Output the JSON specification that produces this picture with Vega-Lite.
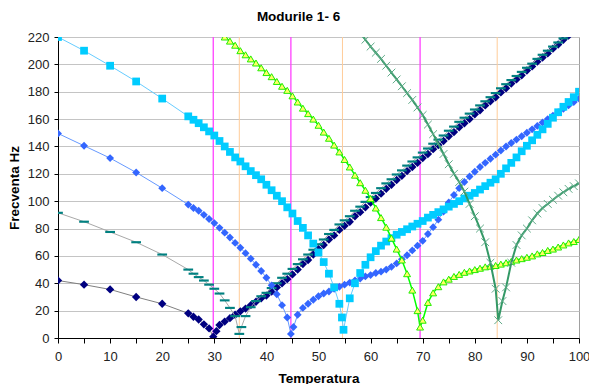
{
  "$schema": "https://vega.github.io/schema/vega-lite/v6.json",
  "width": 521,
  "height": 301,
  "autosize": {"type": "none"},
  "padding": {"left": 58, "top": 37, "right": 10, "bottom": 46},
  "background": "white",
  "title": {"text": "Modurile 1- 6", "fontSize": 13.5, "fontWeight": "bold", "font": "Liberation Sans", "color": "#000", "anchor": "middle", "frame": "group", "dx": -20, "offset": 8},
  "config": {
    "font": "Liberation Sans",
    "view": {"stroke": "#a0a0a0", "strokeWidth": 1},
    "axis": {"labelFont": "Liberation Sans", "titleFont": "Liberation Sans", "labelFontSize": 13, "titleFontSize": 13.5, "titleFontWeight": "bold", "labelColor": "#222", "titleColor": "#000", "domainColor": "#000", "tickColor": "#000", "tickSize": 5}
  },
  "datasets": {
    "vlines": [
      {"x": 29.8, "g": "M"}, {"x": 44.7, "g": "M"}, {"x": 69.5, "g": "M"},
      {"x": 34.8, "g": "O"}, {"x": 54.6, "g": "O"}, {"x": 84.3, "g": "O"}
    ],
    "modes": [
      {"s":"A","x":0,"y":42},{"s":"A","x":5,"y":39},{"s":"A","x":10,"y":35.5},{"s":"A","x":15,"y":30},{"s":"A","x":20,"y":25},{"s":"A","x":25,"y":18},{"s":"A","x":26,"y":15.5},{"s":"A","x":27,"y":13.5},{"s":"A","x":28,"y":10},{"s":"A","x":29,"y":7},{"s":"A","x":29.8,"y":1},{"s":"A","x":30.4,"y":5},
      {"s":"A","x":31,"y":9.5},{"s":"A","x":32,"y":12},{"s":"A","x":33,"y":14.5},{"s":"A","x":34,"y":17},{"s":"A","x":35,"y":19.5},{"s":"A","x":36,"y":21.5},{"s":"A","x":37,"y":24},{"s":"A","x":38,"y":26.5},{"s":"A","x":39,"y":29},{"s":"A","x":40,"y":31},{"s":"A","x":41,"y":34},{"s":"A","x":42,"y":37},{"s":"A","x":43,"y":40},{"s":"A","x":44,"y":43},{"s":"A","x":45,"y":46.5},{"s":"A","x":46,"y":50},{"s":"A","x":47,"y":54},{"s":"A","x":48,"y":57},{"s":"A","x":49,"y":61},{"s":"A","x":50,"y":65},{"s":"A","x":51,"y":68},{"s":"A","x":52,"y":72},{"s":"A","x":53,"y":75},{"s":"A","x":54,"y":79},{"s":"A","x":55,"y":82},{"s":"A","x":56,"y":85},{"s":"A","x":57,"y":89},{"s":"A","x":58,"y":92},{"s":"A","x":59,"y":95.5},{"s":"A","x":60,"y":99},{"s":"A","x":61,"y":102},{"s":"A","x":62,"y":105.5},{"s":"A","x":63,"y":109},{"s":"A","x":64,"y":112},{"s":"A","x":65,"y":115.5},{"s":"A","x":66,"y":118.5},{"s":"A","x":67,"y":122},{"s":"A","x":68,"y":125},{"s":"A","x":69,"y":128},{"s":"A","x":70,"y":131.5},{"s":"A","x":71,"y":134.5},{"s":"A","x":72,"y":138},{"s":"A","x":73,"y":141},{"s":"A","x":74,"y":144},{"s":"A","x":75,"y":147.5},{"s":"A","x":76,"y":150.5},{"s":"A","x":77,"y":154},{"s":"A","x":78,"y":157},{"s":"A","x":79,"y":160},{"s":"A","x":80,"y":163.5},{"s":"A","x":81,"y":166.5},{"s":"A","x":82,"y":170},{"s":"A","x":83,"y":173},{"s":"A","x":84,"y":176},{"s":"A","x":85,"y":179.5},{"s":"A","x":86,"y":182.5},{"s":"A","x":87,"y":186},{"s":"A","x":88,"y":189},{"s":"A","x":89,"y":192},{"s":"A","x":90,"y":195.5},{"s":"A","x":91,"y":198.5},{"s":"A","x":92,"y":202},{"s":"A","x":93,"y":205},{"s":"A","x":94,"y":208},{"s":"A","x":95,"y":211.5},{"s":"A","x":96,"y":214.5},{"s":"A","x":97,"y":218},{"s":"A","x":98,"y":221},

      {"s":"B","x":0,"y":91.5},{"s":"B","x":5,"y":85},{"s":"B","x":10,"y":77.5},{"s":"B","x":15,"y":70},{"s":"B","x":20,"y":61},{"s":"B","x":25,"y":50},{"s":"B","x":26,"y":47},{"s":"B","x":27,"y":44.5},{"s":"B","x":28,"y":42},{"s":"B","x":29,"y":39},{"s":"B","x":30,"y":36},{"s":"B","x":31,"y":32.5},{"s":"B","x":32,"y":27.5},{"s":"B","x":33,"y":22},{"s":"B","x":34,"y":16},{"s":"B","x":34.8,"y":3},{"s":"B","x":35.2,"y":8},{"s":"B","x":36,"y":16},{"s":"B","x":37,"y":22.5},{"s":"B","x":38,"y":27},{"s":"B","x":39,"y":30.5},{"s":"B","x":40,"y":33},{"s":"B","x":41,"y":36.5},{"s":"B","x":42,"y":40},{"s":"B","x":43,"y":44},{"s":"B","x":44,"y":47},{"s":"B","x":45,"y":50.5},{"s":"B","x":46,"y":54},{"s":"B","x":47,"y":57.5},{"s":"B","x":48,"y":61},{"s":"B","x":49,"y":64.5},{"s":"B","x":50,"y":68.5},{"s":"B","x":51,"y":72},{"s":"B","x":52,"y":76},{"s":"B","x":53,"y":79},{"s":"B","x":54,"y":83},{"s":"B","x":55,"y":86},{"s":"B","x":56,"y":89},{"s":"B","x":57,"y":93},{"s":"B","x":58,"y":96},{"s":"B","x":59,"y":99.5},{"s":"B","x":60,"y":103},{"s":"B","x":61,"y":106},{"s":"B","x":62,"y":109.5},{"s":"B","x":63,"y":113},{"s":"B","x":64,"y":116},{"s":"B","x":65,"y":119.5},{"s":"B","x":66,"y":122.5},{"s":"B","x":67,"y":126},{"s":"B","x":68,"y":129},{"s":"B","x":69,"y":132},{"s":"B","x":70,"y":135.5},{"s":"B","x":71,"y":138.5},{"s":"B","x":72,"y":142},{"s":"B","x":73,"y":145},{"s":"B","x":74,"y":148},{"s":"B","x":75,"y":151.5},{"s":"B","x":76,"y":154.5},{"s":"B","x":77,"y":158},{"s":"B","x":78,"y":161},{"s":"B","x":79,"y":164},{"s":"B","x":80,"y":167},{"s":"B","x":81,"y":170},{"s":"B","x":82,"y":173},{"s":"B","x":83,"y":176},{"s":"B","x":84,"y":179},{"s":"B","x":85,"y":182.5},{"s":"B","x":86,"y":185.5},{"s":"B","x":87,"y":188.5},{"s":"B","x":88,"y":191.5},{"s":"B","x":89,"y":194.5},{"s":"B","x":90,"y":197.5},{"s":"B","x":91,"y":200.5},{"s":"B","x":92,"y":204},{"s":"B","x":93,"y":207},{"s":"B","x":94,"y":210},{"s":"B","x":95,"y":213},{"s":"B","x":96,"y":216},{"s":"B","x":97,"y":219},{"s":"B","x":98,"y":222},

      {"s":"C","x":0,"y":149.5},{"s":"C","x":5,"y":140.5},{"s":"C","x":10,"y":131.5},{"s":"C","x":15,"y":121},{"s":"C","x":20,"y":109.5},{"s":"C","x":25,"y":97.5},{"s":"C","x":26,"y":95},{"s":"C","x":27,"y":93},{"s":"C","x":28,"y":90},{"s":"C","x":29,"y":87},{"s":"C","x":30,"y":84},{"s":"C","x":31,"y":80.5},{"s":"C","x":32,"y":77},{"s":"C","x":33,"y":73.5},{"s":"C","x":34,"y":69.5},{"s":"C","x":35,"y":66},{"s":"C","x":36,"y":62},{"s":"C","x":37,"y":58},{"s":"C","x":38,"y":53.5},{"s":"C","x":39,"y":49},{"s":"C","x":40,"y":44},{"s":"C","x":41,"y":38.5},{"s":"C","x":42,"y":32},{"s":"C","x":43,"y":24},{"s":"C","x":44,"y":15},{"s":"C","x":44.7,"y":3},{"s":"C","x":45.2,"y":8},{"s":"C","x":46,"y":17},{"s":"C","x":47,"y":22},{"s":"C","x":48,"y":25},{"s":"C","x":49,"y":28},{"s":"C","x":50,"y":30.5},{"s":"C","x":51,"y":32.5},{"s":"C","x":52,"y":34},{"s":"C","x":53,"y":36},{"s":"C","x":54,"y":37.5},{"s":"C","x":55,"y":39},{"s":"C","x":56,"y":40.5},{"s":"C","x":57,"y":42},{"s":"C","x":58,"y":43.5},{"s":"C","x":59,"y":45},{"s":"C","x":60,"y":46},{"s":"C","x":61,"y":47.5},{"s":"C","x":62,"y":48.5},{"s":"C","x":63,"y":50},{"s":"C","x":64,"y":52},{"s":"C","x":65,"y":54.5},{"s":"C","x":66,"y":57.5},{"s":"C","x":67,"y":60.5},{"s":"C","x":68,"y":64},{"s":"C","x":69,"y":67.5},{"s":"C","x":70,"y":71},{"s":"C","x":71,"y":76},{"s":"C","x":72,"y":81},{"s":"C","x":73,"y":86.5},{"s":"C","x":74,"y":92.5},{"s":"C","x":75,"y":99},{"s":"C","x":76,"y":104.5},{"s":"C","x":77,"y":109.5},{"s":"C","x":78,"y":114},{"s":"C","x":79,"y":118},{"s":"C","x":80,"y":121.5},{"s":"C","x":81,"y":125},{"s":"C","x":82,"y":128},{"s":"C","x":83,"y":131},{"s":"C","x":84,"y":134},{"s":"C","x":85,"y":137},{"s":"C","x":86,"y":140},{"s":"C","x":87,"y":142.5},{"s":"C","x":88,"y":145},{"s":"C","x":89,"y":147.5},{"s":"C","x":90,"y":150},{"s":"C","x":91,"y":152.5},{"s":"C","x":92,"y":155},{"s":"C","x":93,"y":157.5},{"s":"C","x":94,"y":160},{"s":"C","x":95,"y":162.5},{"s":"C","x":96,"y":165},{"s":"C","x":97,"y":167.5},{"s":"C","x":98,"y":170},{"s":"C","x":99,"y":172.5},{"s":"C","x":100,"y":175},

      {"s":"D","x":0,"y":220},{"s":"D","x":5,"y":210},{"s":"D","x":10,"y":199},{"s":"D","x":15,"y":187.5},{"s":"D","x":20,"y":175},{"s":"D","x":25,"y":162},{"s":"D","x":26,"y":159.5},{"s":"D","x":27,"y":157},{"s":"D","x":28,"y":154},{"s":"D","x":29,"y":151},{"s":"D","x":30,"y":148},{"s":"D","x":31,"y":144},{"s":"D","x":32,"y":140},{"s":"D","x":33,"y":136},{"s":"D","x":34,"y":132},{"s":"D","x":35,"y":129},{"s":"D","x":36,"y":125.5},{"s":"D","x":37,"y":122},{"s":"D","x":38,"y":119},{"s":"D","x":39,"y":116},{"s":"D","x":40,"y":112},{"s":"D","x":41,"y":108},{"s":"D","x":42,"y":104},{"s":"D","x":43,"y":100},{"s":"D","x":44,"y":95.5},{"s":"D","x":45,"y":91},{"s":"D","x":46,"y":85.5},{"s":"D","x":47,"y":80.5},{"s":"D","x":48,"y":75},{"s":"D","x":49,"y":69},{"s":"D","x":50,"y":62.5},{"s":"D","x":51,"y":55.5},{"s":"D","x":52,"y":47},{"s":"D","x":53,"y":37},{"s":"D","x":54,"y":25},{"s":"D","x":54.5,"y":15},{"s":"D","x":54.8,"y":6},{"s":"D","x":56,"y":29},{"s":"D","x":57,"y":40},{"s":"D","x":58,"y":47.5},{"s":"D","x":59,"y":53.5},{"s":"D","x":60,"y":59},{"s":"D","x":61,"y":63.5},{"s":"D","x":62,"y":67.5},{"s":"D","x":63,"y":70.5},{"s":"D","x":64,"y":73},{"s":"D","x":65,"y":75.5},{"s":"D","x":66,"y":77.5},{"s":"D","x":67,"y":79.5},{"s":"D","x":68,"y":81.5},{"s":"D","x":69,"y":83.5},{"s":"D","x":70,"y":85.5},{"s":"D","x":71,"y":88},{"s":"D","x":72,"y":90},{"s":"D","x":73,"y":92},{"s":"D","x":74,"y":94},{"s":"D","x":75,"y":96},{"s":"D","x":76,"y":98},{"s":"D","x":77,"y":100},{"s":"D","x":78,"y":102},{"s":"D","x":79,"y":104},{"s":"D","x":80,"y":106},{"s":"D","x":81,"y":108.5},{"s":"D","x":82,"y":111},{"s":"D","x":83,"y":113.5},{"s":"D","x":84,"y":116},{"s":"D","x":85,"y":120},{"s":"D","x":86,"y":124},{"s":"D","x":87,"y":128},{"s":"D","x":88,"y":132},{"s":"D","x":89,"y":136.5},{"s":"D","x":90,"y":140.5},{"s":"D","x":91,"y":144.5},{"s":"D","x":92,"y":148.5},{"s":"D","x":93,"y":152.5},{"s":"D","x":94,"y":156.5},{"s":"D","x":95,"y":161},{"s":"D","x":96,"y":165},{"s":"D","x":97,"y":169},{"s":"D","x":98,"y":172.5},{"s":"D","x":99,"y":176},{"s":"D","x":100,"y":180},

      {"s":"E","x":30.5,"y":226},{"s":"E","x":31,"y":224},{"s":"E","x":32,"y":220},{"s":"E","x":33,"y":217},{"s":"E","x":34,"y":214},{"s":"E","x":35,"y":210},{"s":"E","x":36,"y":207},{"s":"E","x":37,"y":204},{"s":"E","x":38,"y":201},{"s":"E","x":39,"y":197.5},{"s":"E","x":40,"y":194},{"s":"E","x":41,"y":191},{"s":"E","x":42,"y":187.5},{"s":"E","x":43,"y":184},{"s":"E","x":44,"y":181},{"s":"E","x":45,"y":177},{"s":"E","x":46,"y":172.5},{"s":"E","x":47,"y":168},{"s":"E","x":48,"y":164},{"s":"E","x":49,"y":160},{"s":"E","x":50,"y":155.5},{"s":"E","x":51,"y":150.5},{"s":"E","x":52,"y":146},{"s":"E","x":53,"y":141},{"s":"E","x":54,"y":136},{"s":"E","x":55,"y":130.5},{"s":"E","x":56,"y":125},{"s":"E","x":57,"y":119},{"s":"E","x":58,"y":113.5},{"s":"E","x":59,"y":108},{"s":"E","x":60,"y":102},{"s":"E","x":61,"y":95},{"s":"E","x":62,"y":88},{"s":"E","x":63,"y":81},{"s":"E","x":64,"y":73},{"s":"E","x":65,"y":65},{"s":"E","x":66,"y":57},{"s":"E","x":67,"y":47},{"s":"E","x":68,"y":35},{"s":"E","x":69,"y":20},{"s":"E","x":69.5,"y":8},{"s":"E","x":70,"y":13},{"s":"E","x":71,"y":26},{"s":"E","x":72,"y":33},{"s":"E","x":73,"y":37.5},{"s":"E","x":74,"y":41},{"s":"E","x":75,"y":43},{"s":"E","x":76,"y":45},{"s":"E","x":77,"y":46.5},{"s":"E","x":78,"y":48},{"s":"E","x":79,"y":49},{"s":"E","x":80,"y":50},{"s":"E","x":81,"y":51},{"s":"E","x":82,"y":52},{"s":"E","x":83,"y":52.5},{"s":"E","x":84,"y":53},{"s":"E","x":85,"y":54},{"s":"E","x":86,"y":55},{"s":"E","x":87,"y":56},{"s":"E","x":88,"y":57},{"s":"E","x":89,"y":58},{"s":"E","x":90,"y":59},{"s":"E","x":91,"y":60},{"s":"E","x":92,"y":61.5},{"s":"E","x":93,"y":62.5},{"s":"E","x":94,"y":64},{"s":"E","x":95,"y":65},{"s":"E","x":96,"y":66.5},{"s":"E","x":97,"y":68},{"s":"E","x":98,"y":69.5},{"s":"E","x":99,"y":70.5},{"s":"E","x":100,"y":72},

      {"s":"F","x":57,"y":229},{"s":"F","x":58,"y":223},{"s":"F","x":59,"y":218},{"s":"F","x":60,"y":213},{"s":"F","x":61,"y":208.5},{"s":"F","x":62,"y":204},{"s":"F","x":63,"y":199},{"s":"F","x":64,"y":194},{"s":"F","x":65,"y":189},{"s":"F","x":66,"y":184},{"s":"F","x":67,"y":179},{"s":"F","x":68,"y":174},{"s":"F","x":69,"y":168.5},{"s":"F","x":70,"y":163},{"s":"F","x":71,"y":156},{"s":"F","x":72,"y":149},{"s":"F","x":73,"y":142},{"s":"F","x":74,"y":134.5},{"s":"F","x":75,"y":127},{"s":"F","x":76,"y":120},{"s":"F","x":77,"y":114},{"s":"F","x":78,"y":107},{"s":"F","x":79,"y":98},{"s":"F","x":80,"y":89},{"s":"F","x":81,"y":80},{"s":"F","x":82,"y":70},{"s":"F","x":83,"y":55},{"s":"F","x":84,"y":36},{"s":"F","x":84.5,"y":13},{"s":"F","x":85.3,"y":27},{"s":"F","x":86,"y":37},{"s":"F","x":87,"y":55},{"s":"F","x":88,"y":68},{"s":"F","x":89,"y":75},{"s":"F","x":90,"y":80},{"s":"F","x":91,"y":86},{"s":"F","x":92,"y":91},{"s":"F","x":93,"y":95},{"s":"F","x":94,"y":98},{"s":"F","x":95,"y":101},{"s":"F","x":96,"y":104},{"s":"F","x":97,"y":106.5},{"s":"F","x":98,"y":109},{"s":"F","x":99,"y":111},{"s":"F","x":100,"y":113}
    ]
  },
  "encoding": {
    "x": {"field": "x", "type": "quantitative", "scale": {"domain": [0, 100], "nice": false},
      "axis": {"title": "Temperatura", "values": [0,5,10,15,20,25,30,35,40,45,50,55,60,65,70,75,80,85,90,95,100], "labelExpr": "datum.value % 10 == 0 ? datum.label : ''", "grid": false, "labelPadding": 7, "titlePadding": 8, "labelFlush": false}}
  },
  "layer": [
    {
      "data": {"name": "vlines"},
      "transform": [{"filter": "datum.g == 'O'"}],
      "mark": {"type": "rule", "color": "#FFCC99", "strokeWidth": 1}
    },
    {
      "data": {"name": "vlines"},
      "transform": [{"filter": "datum.g == 'M'"}],
      "mark": {"type": "rule", "color": "#FF40FF", "strokeWidth": 1.3}
    },
    {
      "data": {"name": "modes"},
      "encoding": {
        "y": {"field": "y", "type": "quantitative", "scale": {"domain": [0, 220], "nice": false},
          "axis": {"title": "Frecventa Hz", "values": [0,20,40,60,80,100,120,140,160,180,200,220], "grid": true, "gridColor": "#c4c4c4", "gridWidth": 1, "labelPadding": 5, "titlePadding": 6, "tickSize": 4}}
      },
      "layer": [
        {"transform": [{"filter": "datum.s == 'A'"}], "mark": {"type": "line", "color": "#7f7f7f", "strokeWidth": 1, "clip": true}},
        {"transform": [{"filter": "datum.s == 'A'"}], "mark": {"type": "point", "shape": "diamond", "size": 70, "filled": true, "color": "#000080", "opacity": 1, "clip": true}},
        {"transform": [{"filter": "datum.s == 'B'"}], "mark": {"type": "line", "color": "#a8a8a8", "strokeWidth": 1, "clip": true}},
        {"transform": [{"filter": "datum.s == 'B'"}], "mark": {"type": "point", "shape": "M-1,-0.22H1V0.22H-1Z", "size": 95, "filled": true, "color": "#008080", "opacity": 1, "clip": true}},
        {"transform": [{"filter": "datum.s == 'C'"}], "mark": {"type": "line", "color": "#6699ff", "strokeWidth": 1, "clip": true}},
        {"transform": [{"filter": "datum.s == 'C'"}], "mark": {"type": "point", "shape": "diamond", "size": 62, "filled": true, "color": "#3366ff", "opacity": 1, "clip": true}},
        {"transform": [{"filter": "datum.s == 'D'"}], "mark": {"type": "line", "color": "#66ccff", "strokeWidth": 1, "clip": true}},
        {"transform": [{"filter": "datum.s == 'D'"}], "mark": {"type": "point", "shape": "square", "size": 60, "filled": true, "color": "#00ccff", "opacity": 1, "clip": true}},
        {"transform": [{"filter": "datum.s == 'E'"}], "mark": {"type": "line", "color": "#00ff00", "strokeWidth": 1.5, "clip": true}},
        {"transform": [{"filter": "datum.s == 'E'"}], "mark": {"type": "point", "shape": "triangle-up", "size": 48, "filled": true, "fill": "#ffff66", "stroke": "#22ee00", "strokeWidth": 1, "opacity": 1, "clip": true}},
        {"transform": [{"filter": "datum.s == 'F'"}], "mark": {"type": "line", "color": "#339966", "strokeWidth": 2, "clip": true}},
        {"transform": [{"filter": "datum.s == 'F'"}], "mark": {"type": "point", "shape": "M-1,-1L1,1M-1,1L1,-1", "size": 60, "filled": false, "stroke": "#5faa88", "strokeWidth": 1, "opacity": 1, "clip": true}}
      ]
    }
  ]
}
